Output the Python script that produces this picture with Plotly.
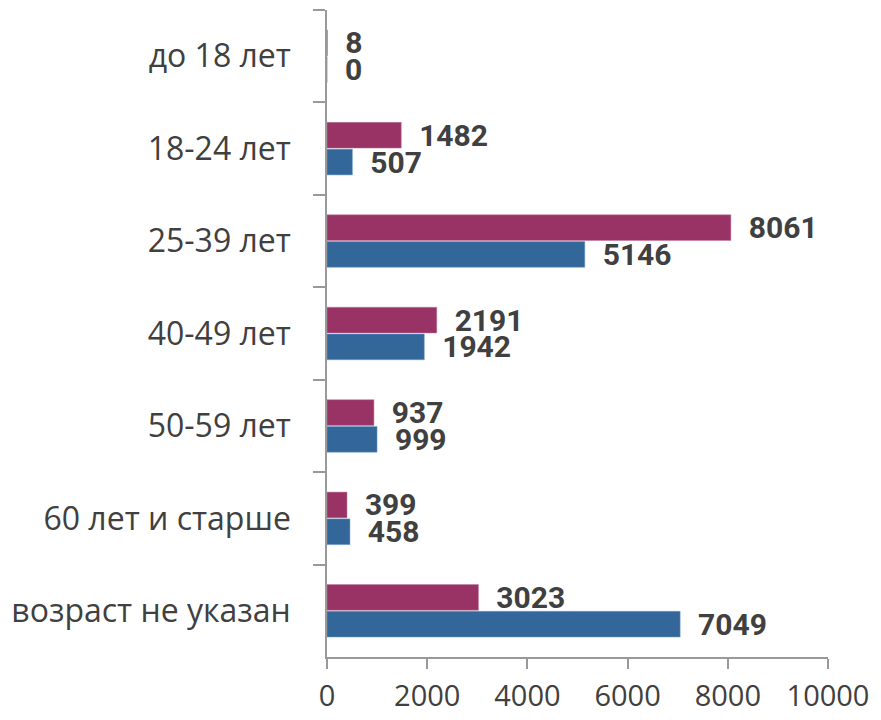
import plotly.graph_objects as go

categories = ["до 18 лет", "18-24 лет", "25-39 лет", "40-49 лет",
              "50-59 лет", "60 лет и старше", "возраст не указан"]
series_a = [8, 1482, 8061, 2191, 937, 399, 3023]
series_b = [0, 507, 5146, 1942, 999, 458, 7049]
x_ticks = [0, 2000, 4000, 6000, 8000, 10000]

label_font = dict(family="Roboto, sans-serif", size=30, color="#404040")

fig = go.Figure()
fig.add_trace(go.Bar(y=categories, x=series_a, orientation="h", name="Ряд1",
                     marker=dict(color="#993366", line=dict(color="#c27a9e", width=0.5)),
                     texttemplate="\u00a0\u00a0<b>%{x}</b>", textposition="outside",
                     constraintext="none", textfont=label_font, cliponaxis=False))
fig.add_trace(go.Bar(y=categories, x=series_b, orientation="h", name="Ряд2",
                     marker=dict(color="#336699", line=dict(color="#6f9fcf", width=0.5)),
                     texttemplate="\u00a0\u00a0<b>%{x}</b>", textposition="outside",
                     constraintext="none", textfont=label_font, cliponaxis=False))

# page body has an 8px margin, so the figure is a bit smaller than the window
fig.update_layout(
    barmode="group",
    bargap=0.42,
    bargroupgap=0.04,
    showlegend=False,
    width=873,
    height=712,
    margin=dict(l=319, r=53, t=2, b=63),
    plot_bgcolor="white",
    paper_bgcolor="white",
    font=dict(family="Open Sans, sans-serif", size=30, color="#404040"),
)
fig.update_xaxes(range=[0, 10000], tickvals=x_ticks, ticktext=[str(v) for v in x_ticks],
                 showgrid=False, zeroline=False, automargin=False,
                 showline=True, linecolor="#999999", linewidth=1.5,
                 ticks="outside", ticklen=10, tickcolor="#999999", tickwidth=1.5,
                 tickfont=dict(size=29), ticklabelstandoff=2)
fig.update_yaxes(autorange="reversed", showgrid=False, zeroline=False, automargin=False,
                 showline=True, linecolor="#999999", linewidth=1.5,
                 ticks="outside", tickson="boundaries", ticklen=12,
                 tickcolor="#999999", tickwidth=1.5,
                 tickfont=dict(size=32), ticklabelstandoff=28)

fig.write_html("out.html")
